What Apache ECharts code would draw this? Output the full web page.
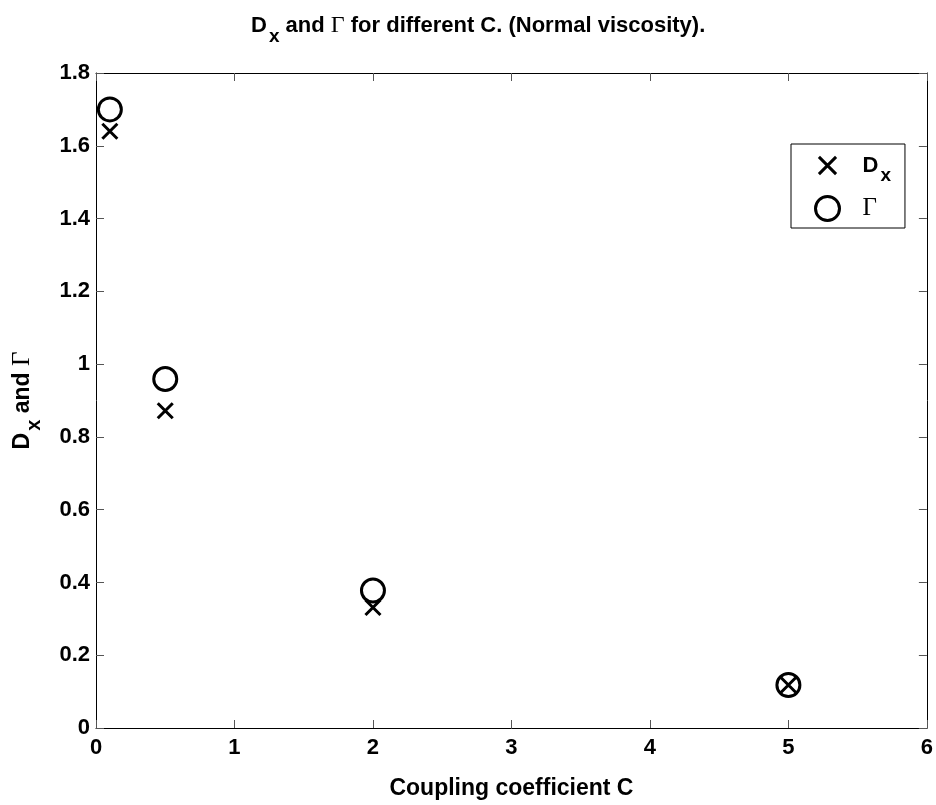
<!DOCTYPE html>
<html>
<head>
<meta charset="utf-8">
<script src="https://cdn.jsdelivr.net/npm/echarts@6/dist/echarts.min.js"></script>
<style>html,body{margin:0;padding:0;background:#fff}#c{width:936px;height:805px}</style>
</head>
<body>
<div id="c"></div>
<script>
const couplingC = [0.1, 0.5, 2, 5];
const dxValues = [1.64, 0.872, 0.331, 0.118];
const gammaValues = [1.70, 0.959, 0.378, 0.118];
const xTicks = [0, 1, 2, 3, 4, 5, 6];
const yTicks = [0, 0.2, 0.4, 0.6, 0.8, 1, 1.2, 1.4, 1.6, 1.8];

const FONT = 'Liberation Sans, Arial, sans-serif';
const SERIF = 'Liberation Serif, Times New Roman, serif';
function richSet(size) {
  return {
    n: {fontFamily: FONT, fontWeight: 'bold', fontSize: size, color: '#000'},
    s: {fontFamily: FONT, fontWeight: 'bold', fontSize: Math.round(size * 0.85), color: '#000', padding: [Math.round(size * 1.0), 0, 0, 2]},
    g: {fontFamily: SERIF, fontWeight: 'normal', fontSize: size + 2, color: '#000'}
  };
}

const chart = echarts.init(document.getElementById('c'), null, {renderer: 'canvas'});
const axisCommon = {
  min: 0,
  axisLine: {show: true, onZero: false, lineStyle: {color: '#000', width: 1}},
  axisTick: {show: true, inside: true, length: 8, lineStyle: {color: '#555', width: 1}},
  splitLine: {show: false}
};
const option = {
  backgroundColor: '#fff',
  animation: false,
  title: {
    text: '{n|D}{s|x}{n| and }{g|Γ}{n| for different C. (Normal viscosity).}',
    left: 246, top: 0,
    textStyle: {rich: richSet(22)}
  },
  grid: {left: 96, right: 7, top: 73, bottom: 75},
  legend: {
    data: ['Dx', 'Gamma'],
    orient: 'vertical',
    left: 791, top: 144,
    padding: [8, 14, 6, 23],
    itemGap: 10,
    itemWidth: 24, itemHeight: 24,
    borderColor: '#000', borderWidth: 1,
    backgroundColor: '#fff',
    formatter: function (name) {
      return name === 'Dx' ? '{n|D}{s|x}' : '{g|Γ}';
    },
    textStyle: {
      rich: {
        n: {fontFamily: FONT, fontWeight: 'bold', fontSize: 22, color: '#000', padding: [0, 0, 0, 18]},
        s: {fontFamily: FONT, fontWeight: 'bold', fontSize: 19, color: '#000', padding: [20, 0, 0, 2]},
        g: {fontFamily: SERIF, fontSize: 25, color: '#000', padding: [0, 0, 0, 18]}
      }
    },
    itemStyle: {borderWidth: 'inherit', borderColor: 'inherit'}
  },
  xAxis: [
    Object.assign({}, axisCommon, {
      type: 'value', position: 'bottom', max: 6, interval: 1,
      axisLabel: {color: '#000', fontFamily: FONT, fontWeight: 'bold', fontSize: 22, margin: 9,
        formatter: v => String(xTicks.find(t => Math.abs(t - v) < 1e-9) ?? v)},
      name: 'Coupling coefficient C', nameLocation: 'middle', nameGap: 49,
      nameTextStyle: {color: '#000', fontFamily: FONT, fontWeight: 'bold', fontSize: 23}
    }),
    Object.assign({}, axisCommon, {
      type: 'value', position: 'top', max: 6, interval: 1, axisLabel: {show: false}
    })
  ],
  yAxis: [
    Object.assign({}, axisCommon, {
      type: 'value', position: 'left', max: 1.8, interval: 0.2,
      axisLabel: {color: '#000', fontFamily: FONT, fontWeight: 'bold', fontSize: 22, margin: 6,
        formatter: v => { const t = yTicks.find(t => Math.abs(t - v) < 1e-9); return String(t ?? v); }},
      name: '{n|D}{s|x}{n| and }{g|Γ}', nameLocation: 'middle', nameGap: 52, nameRotate: 90,
      nameTextStyle: {rich: richSet(23)}
    }),
    Object.assign({}, axisCommon, {
      type: 'value', position: 'right', max: 1.8, interval: 0.2, axisLabel: {show: false}
    })
  ],
  series: [
    {
      name: 'Gamma', type: 'scatter', xAxisIndex: 0, yAxisIndex: 0,
      symbol: 'circle', symbolSize: 23,
      itemStyle: {color: 'rgba(0,0,0,0)', borderColor: '#000', borderWidth: 3, opacity: 1},
      data: couplingC.map((c, i) => [c, gammaValues[i]]), z: 3
    },
    {
      name: 'Dx', type: 'scatter', xAxisIndex: 0, yAxisIndex: 0,
      symbol: 'path://M-2,-2M0,0L10,10M10,0L0,10M12,12', symbolSize: 21,
      itemStyle: {color: 'rgba(0,0,0,0)', borderColor: '#000', borderWidth: 3, opacity: 1},
      data: couplingC.map((c, i) => [c, dxValues[i]]), z: 4
    }
  ]
};
chart.setOption(option);
</script>
</body>
</html>
